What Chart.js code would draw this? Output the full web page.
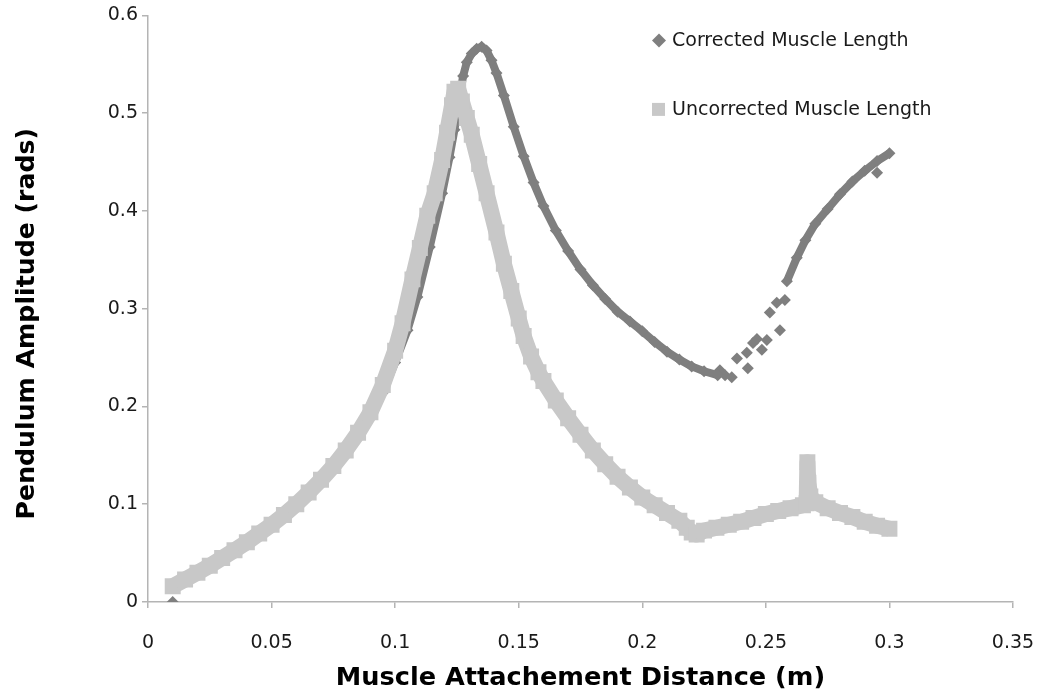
<!DOCTYPE html>
<html lang="en">
<head>
  <meta charset="UTF-8">
  <title>Pendulum Amplitude vs Muscle Attachment Distance</title>
  <script src="https://cdn.jsdelivr.net/npm/chart.js"></script>
  <style>
    body {
      margin: 0;
      background: #fff;
    }
    #chart {
      display: block;
    }
  </style>
</head>
<body>

<canvas id="chart" width="1037" height="696"></canvas>

<script>
  // Data
  const seriesNames = ['Corrected Muscle Length', 'Uncorrected Muscle Length'];
  const xTickLabels = ['0', '0.05', '0.1', '0.15', '0.2', '0.25', '0.3', '0.35'];
  const yTickLabels = ['0', '0.1', '0.2', '0.3', '0.4', '0.5', '0.6'];

  // Uncorrected muscle length (light squares)
  const uncX = [0.010, 0.015, 0.020, 0.025, 0.030, 0.035, 0.040, 0.045, 0.050, 0.055,
                0.060, 0.065, 0.070, 0.075, 0.080, 0.085, 0.090, 0.095, 0.100, 0.103,
                0.107, 0.110, 0.113, 0.116, 0.119, 0.121, 0.123, 0.124, 0.1255, 0.127,
                0.129, 0.131, 0.134, 0.137, 0.141, 0.144, 0.147, 0.150, 0.152, 0.155,
                0.158, 0.160, 0.165, 0.170, 0.175, 0.180, 0.185, 0.190, 0.195, 0.200,
                0.205, 0.210, 0.215, 0.218, 0.220, 0.222, 0.225, 0.230, 0.235, 0.240,
                0.245, 0.250, 0.255, 0.260, 0.265, 0.2665, 0.2668, 0.2672, 0.268, 0.270,
                0.275, 0.280, 0.285, 0.290, 0.295, 0.300];
  const uncY = [0.016, 0.023, 0.030, 0.037, 0.045, 0.053, 0.061, 0.070, 0.079, 0.089,
                0.100, 0.112, 0.125, 0.139, 0.155, 0.173, 0.194, 0.222, 0.257, 0.285,
                0.330, 0.362, 0.395, 0.418, 0.452, 0.480, 0.508, 0.522, 0.525, 0.512,
                0.495, 0.478, 0.448, 0.418, 0.378, 0.346, 0.318, 0.290, 0.272, 0.251,
                0.235, 0.226, 0.206, 0.188, 0.171, 0.155, 0.141, 0.128, 0.117, 0.107,
                0.099, 0.091, 0.083, 0.076, 0.071, 0.069, 0.073, 0.076, 0.079, 0.082,
                0.086, 0.090, 0.093, 0.096, 0.099, 0.101, 0.143, 0.122, 0.108, 0.102,
                0.096, 0.091, 0.087, 0.082, 0.078, 0.075];

  // Corrected muscle length (dark diamonds), null = break in the chain
  const corrX = [0.010, 0.0102, 0.015, 0.020, 0.030, 0.040, 0.050, 0.060, 0.070, 0.080,
                 0.090, 0.095, 0.100, 0.105, 0.109, 0.114, 0.119, 0.122, 0.124, 0.126,
                 0.1275, 0.129, 0.131, 0.133, 0.135, 0.137, 0.139, 0.141, 0.144, 0.148,
                 0.152, 0.156, 0.160, 0.165, 0.170, 0.175, 0.180, 0.185, 0.190, 0.195,
                 0.200, 0.205, 0.210, 0.215, 0.220, 0.225, 0.2305, 0.245, 0.2585, 0.2625,
                 0.266, 0.270, 0.275, 0.280, 0.285, 0.290, 0.295, 0.300];
  const corrY = [0.000, null, 0.021, 0.029, 0.044, 0.060, 0.078, 0.098, 0.122, 0.151,
                 0.189, 0.214, 0.245, 0.278, 0.312, 0.363, 0.418, 0.455, 0.483, 0.515,
                 0.538, 0.552, 0.561, 0.566, 0.568, 0.564, 0.554, 0.541, 0.518, 0.486,
                 0.456, 0.429, 0.405, 0.380, 0.359, 0.340, 0.324, 0.310, 0.297, 0.287,
                 0.277, 0.266, 0.256, 0.248, 0.241, 0.236, 0.232, null, 0.328, 0.352,
                 0.370, 0.387, 0.402, 0.417, 0.430, 0.441, 0.451, 0.459];

  // Corrected: loose diamonds around the minimum
  const corrLooseX = [0.2314, 0.2335, 0.2362, 0.2383, 0.2427, 0.2423, 0.2448, 0.2464,
                      0.2484, 0.2504, 0.2516, 0.2544, 0.2557, 0.2577, 0.295];
  const corrLooseY = [0.237, 0.232, 0.230, 0.249, 0.239, 0.255, 0.265, 0.269,
                      0.258, 0.268, 0.296, 0.306, 0.278, 0.309, 0.439];

  const toPoints = (xs, ys) => xs.map((x, i) => ({ x: x, y: ys[i] }));

  const darkGrey = '#7f7f7f';
  const lightGrey = '#c8c8c8';
  const axisGrey = '#b4b4b4';
  const font = 'DejaVu Sans';
  const yTitle = 'Pendulum Amplitude (rads)';

  // Legend drawn inside the plot, top right; y title sits a little below centre
  const insideLegend = {
    id: 'insideLegend',
    afterDraw(chart) {
      const ctx = chart.ctx;
      const area = chart.chartArea;
      const left = area.left + 510;
      const top = area.top;
      ctx.save();
      ctx.font = '19px "' + font + '"';
      ctx.textBaseline = 'middle';

      // diamond
      const dy = top + 25;
      ctx.fillStyle = darkGrey;
      ctx.beginPath();
      ctx.moveTo(left + 1 - 7, dy);
      ctx.lineTo(left + 1, dy - 7);
      ctx.lineTo(left + 1 + 7, dy);
      ctx.lineTo(left + 1, dy + 7);
      ctx.closePath();
      ctx.fill();
      ctx.fillStyle = '#1a1a1a';
      ctx.fillText(seriesNames[0], left + 14, dy + 1);

      // square
      const sy = top + 94;
      ctx.fillStyle = lightGrey;
      ctx.fillRect(left - 6, sy - 6.5, 13, 13);
      ctx.fillStyle = '#1a1a1a';
      ctx.fillText(seriesNames[1], left + 14, sy + 1);

      // y axis title
      ctx.translate(34, (area.top + area.bottom) / 2 + 15);
      ctx.rotate(-Math.PI / 2);
      ctx.textAlign = 'center';
      ctx.textBaseline = 'alphabetic';
      ctx.fillStyle = '#000';
      ctx.font = 'bold 25.2px "' + font + '"';
      ctx.fillText(yTitle, 0, 0);
      ctx.restore();
    }
  };

  new Chart(document.getElementById('chart'), {
    type: 'scatter',
    data: {
      datasets: [
        {
          label: seriesNames[1],
          data: toPoints(uncX, uncY),
          showLine: true,
          borderColor: lightGrey,
          backgroundColor: lightGrey,
          borderWidth: 16,
          borderJoinStyle: 'round',
          pointStyle: 'rect',
          pointRadius: 11.3,
          pointBorderWidth: 0,
          pointHoverRadius: 11.3
        },
        {
          label: seriesNames[0],
          data: toPoints(corrX, corrY),
          showLine: true,
          spanGaps: false,
          borderColor: darkGrey,
          backgroundColor: darkGrey,
          borderWidth: 8,
          borderJoinStyle: 'round',
          pointStyle: 'rectRot',
          pointRadius: 6,
          pointBorderWidth: 0,
          pointHoverRadius: 6
        },
        {
          label: seriesNames[0] + ' (loose)',
          data: toPoints(corrLooseX, corrLooseY),
          showLine: false,
          backgroundColor: darkGrey,
          pointStyle: 'rectRot',
          pointRadius: 6,
          pointBorderWidth: 0,
          pointHoverRadius: 6
        }
      ]
    },
    options: {
      responsive: false,
      animation: false,
      layout: {
        padding: { top: 14, right: 24, left: 0, bottom: 0 }
      },
      plugins: {
        legend: { display: false },
        tooltip: { enabled: false }
      },
      scales: {
        x: {
          type: 'linear',
          min: 0,
          max: 0.35,
          afterFit: axis => {
            axis.height = 94;
            axis.paddingLeft = 0;
            axis.paddingRight = 0;
          },
          border: { color: axisGrey, width: 1.5 },
          grid: { drawOnChartArea: false, drawTicks: true, tickLength: 6, color: axisGrey, lineWidth: 1.5 },
          ticks: {
            stepSize: 0.05,
            padding: 24,
            color: '#1a1a1a',
            font: { family: font, size: 19 },
            callback: (v, i) => xTickLabels[i]
          },
          title: {
            display: true,
            text: 'Muscle Attachement Distance (m)',
            color: '#000',
            font: { family: font, size: 25.6, weight: 'bold' },
            padding: { top: 0, bottom: 2 }
          }
        },
        y: {
          type: 'linear',
          min: 0,
          max: 0.6,
          afterFit: axis => { axis.width = 148; },
          border: { color: axisGrey, width: 1.5 },
          grid: { drawOnChartArea: false, drawTicks: true, tickLength: 6, color: axisGrey, lineWidth: 1.5 },
          ticks: {
            stepSize: 0.1,
            padding: 4,
            color: '#1a1a1a',
            font: { family: font, size: 19 },
            callback: (v, i) => yTickLabels[i]
          }
        }
      }
    },
    plugins: [insideLegend]
  });
</script>

</body>
</html>
